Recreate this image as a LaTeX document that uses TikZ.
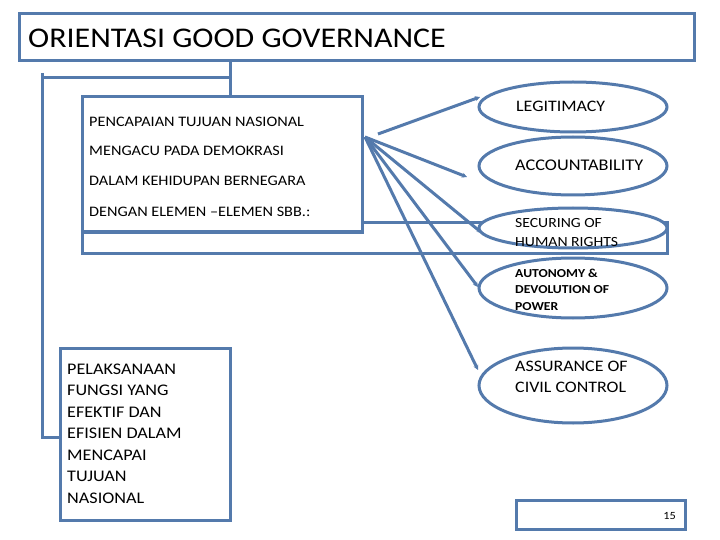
\documentclass[tikz,border=0pt]{standalone}
\usepackage{fontspec}
\setmainfont[FakeStretch=1.12]{Carlito}
\usetikzlibrary{arrows.meta,shapes.geometric}
\definecolor{lineblue}{RGB}{84,122,172}
\tikzset{
  boxx/.style={draw=lineblue,line width=3pt,fill=white,rectangle,inner sep=0pt},
  ell/.style={draw=lineblue,line width=3pt,fill=white,ellipse,inner sep=0pt,minimum width=188pt},
  conn/.style={draw=lineblue,line width=3pt},
  arr/.style={draw=lineblue,line width=3pt,-{Stealth[length=5pt,width=5pt]}},
  txt/.style={anchor=base west,inner sep=0pt,text=black},
}
\begin{document}
\begin{tikzpicture}[x=1pt,y=-1pt]
\useasboundingbox (0,0) rectangle (720,540);
% title
\node[boxx,minimum width=675pt,minimum height=47pt] (title) at (356.5,37.5) {};
\node[txt,font=\fontsize{28.5}{30}\selectfont] (titletxt) at (28,48) {ORIENTASI GOOD GOVERNANCE};
% outer rectangle behind
\node[boxx,minimum width=585pt,minimum height=30pt] (outer) at (374.5,238) {};
% pencapaian box
\node[boxx,minimum width=280pt,minimum height=135pt] (pen) at (222,164.5) {};
\begin{scope}[font=\fontsize{14.5}{16}\selectfont]
\node[txt] (p1) at (89,127) {PENCAPAIAN TUJUAN NASIONAL};
\node[txt] (p2) at (89,156) {MENGACU PADA DEMOKRASI};
\node[txt] (p3) at (89,186) {DALAM KEHIDUPAN BERNEGARA};
\node[txt] (p4) at (89,216) {DENGAN ELEMEN --ELEMEN SBB.:};
\end{scope}
% pelaksanaan box
\node[boxx,minimum width=170pt,minimum height=172pt] (pel) at (145,434) {};
\begin{scope}[font=\fontsize{16.2}{18}\selectfont]
\node[txt] (l1) at (67,374) {PELAKSANAAN};
\node[txt] (l2) at (67,395.5) {FUNGSI YANG};
\node[txt] (l3) at (67,417) {EFEKTIF DAN};
\node[txt] (l4) at (67,438.5) {EFISIEN DALAM};
\node[txt] (l5) at (67,460) {MENCAPAI};
\node[txt] (l6) at (67,481.5) {TUJUAN};
\node[txt] (l7) at (67,503) {NASIONAL};
\end{scope}
% page box
\node[boxx,minimum width=169pt,minimum height=29pt] (page) at (600.5,515) {};
\node[anchor=base east,inner sep=0pt,font=\fontsize{11}{13}\selectfont] (pnum) at (676,519) {15};
% left connectors
\coordinate (tj) at (230,78);
\coordinate (tl) at (42,73);
\coordinate (lb) at (42,437);
\draw[conn] (title.south -| tj) -- (pen.north -| tj);
\draw[conn] (tj) -- (tj -| tl);
\draw[conn] (tl) -- (lb) -- (lb -| pel.west);
% ellipses
\node[ell,minimum height=50pt] (e1) at (573,107) {};
\node[ell,minimum height=58pt] (e2) at (573,166) {};
\node[ell,minimum height=40pt] (e3) at (573,228) {};
\node[ell,minimum height=60pt] (e4) at (573,288) {};
\node[ell,minimum height=75pt] (e5) at (573,385.5) {};
\begin{scope}[font=\fontsize{16}{17}\selectfont]
\node[txt] (t1) at (516,112) {LEGITIMACY};
\node[txt,font=\fontsize{16.3}{17}\selectfont] (t2) at (515,171) {ACCOUNTABILITY};
\node[txt,font=\fontsize{14}{16}\selectfont] (t3a) at (515,227) {SECURING OF};
\node[txt,font=\fontsize{14}{16}\selectfont] (t3b) at (515,246) {HUMAN RIGHTS};
\node[txt,font=\bfseries\fontsize{12.2}{13}\selectfont] (t4a) at (515,277) {AUTONOMY \&};
\node[txt,font=\bfseries\fontsize{12.2}{13}\selectfont] (t4b) at (515,293.5) {DEVOLUTION OF};
\node[txt,font=\bfseries\fontsize{12.2}{13}\selectfont] (t4c) at (515,310) {POWER};
\node[txt] (t5a) at (515,371) {ASSURANCE OF};
\node[txt] (t5b) at (515,392) {CIVIL CONTROL};
\end{scope}
% arrows
\coordinate (hub) at (365,137);
\coordinate (hub2) at (378,134);
\coordinate (a1) at (480,97);
\coordinate (a2) at (467,177);
\coordinate (a3) at (482,233);
\coordinate (a4) at (478,287);
\coordinate (a5) at (478,370);
\draw[arr] (hub2) -- (a1);
\draw[arr] (hub) -- (a2);
\draw[arr] (hub) -- (a3);
\draw[arr] (hub) -- (a4);
\draw[arr] (hub) -- (a5);
\end{tikzpicture}
\end{document}
